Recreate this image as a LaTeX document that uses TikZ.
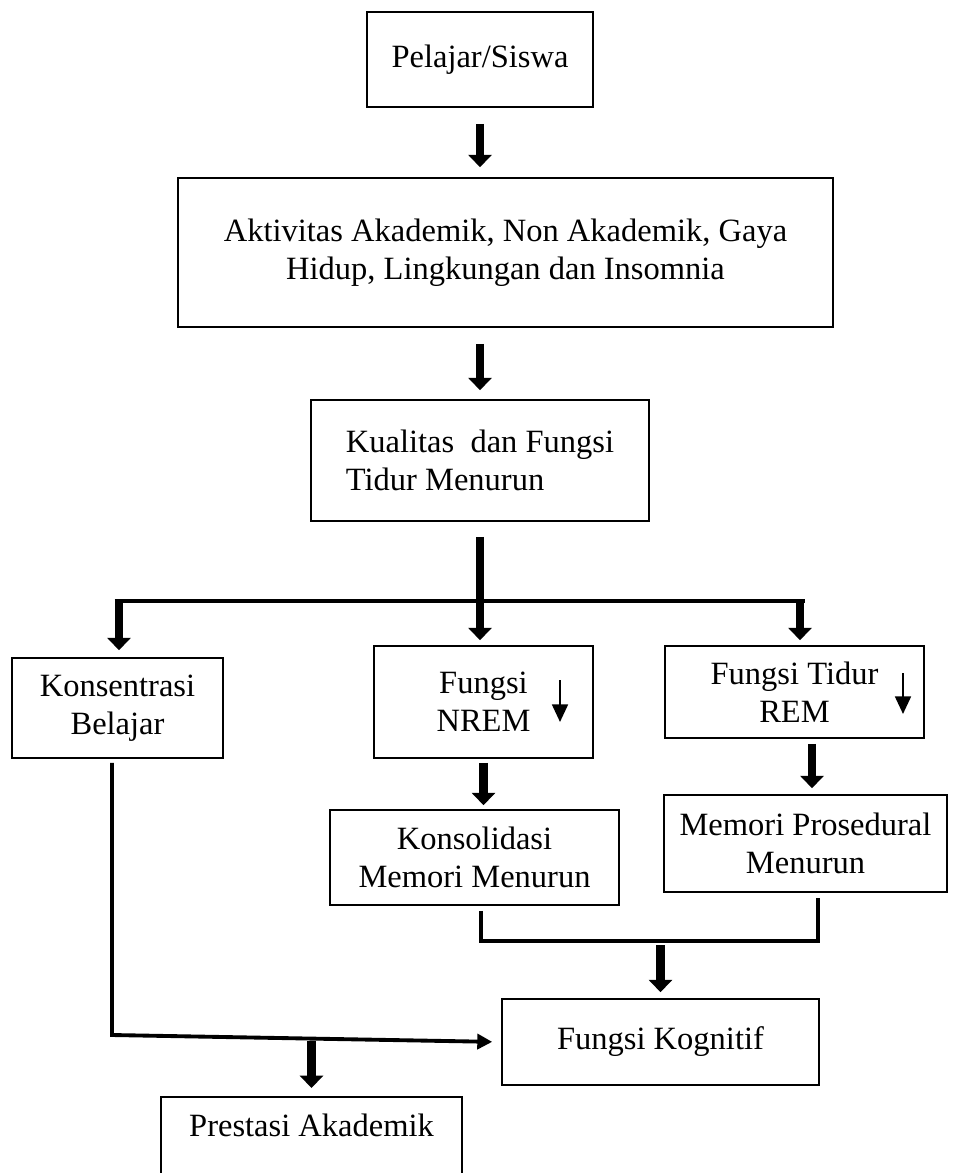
\documentclass[tikz,border=0pt]{standalone}
\usepackage{fontspec}
\setmainfont{Liberation Serif}
\usepackage{tikz}
\usetikzlibrary{arrows.meta}
\tikzset{
    box/.style={draw, line width=0.9pt, align=center, inner sep=2pt},
    bigarrow/.style={line width=5pt, -{Triangle[width=13pt, length=7pt]}},
    linkline/.style={line width=2.2pt},
    linkarrow/.style={line width=2.2pt, -{Triangle[width=8.5pt, length=8.5pt]}},
    downmark/.style={line width=1.3pt, -{Triangle[width=9pt, length=10pt]}}
}

\begin{document}
\begin{tikzpicture}
  [
    x                       = 0.02cm,
    y                       = -0.02cm,
    every node/.style       = {font=\fontsize{18.5}{21.6}\selectfont},
  ]
  \useasboundingbox (0,0) rectangle (953,1173);
  \clip (0,0) rectangle (953,1173);

  \node [box, minimum width=4.52cm, minimum height=1.9cm] (siswa) at (480,59.5) {Pelajar/Siswa};
  \node [box, minimum width=13.1cm, minimum height=2.98cm] (aktivitas) at (505.5,252.5)
    {Aktivitas Akademik, Non Akademik, Gaya\\Hidup, Lingkungan dan Insomnia};
  \node [box, align=left, minimum width=6.76cm, minimum height=2.42cm] (kualitas) at (480,460.5)
    {Kualitas\ \ dan Fungsi\\Tidur Menurun};
  \node [box, minimum width=4.22cm, minimum height=2cm] (konsentrasi) at (117.5,708) {Konsentrasi\\Belajar};
  \node [box, minimum width=4.38cm, minimum height=2.24cm] (nrem) at (483.5,702) {Fungsi\\NREM};
  \node [box, minimum width=5.18cm, minimum height=1.84cm] (rem) at (794.5,692) {Fungsi Tidur\\REM};
  \node [box, minimum width=5.78cm, minimum height=1.9cm] (konsolidasi) at (474.5,857.5) {Konsolidasi\\Memori Menurun};
  \node [box, minimum width=5.66cm, minimum height=1.94cm] (prosedural) at (805.5,843.5) {Memori Prosedural\\Menurun};
  \node [box, minimum width=6.34cm, minimum height=1.72cm] (kognitif) at (660.5,1042) {Fungsi Kognitif};
  \node [box, anchor=north, minimum width=6.02cm, inner ysep=0.34cm, text depth=1.2cm] (prestasi) at (311.5,1096)
    {Prestasi Akademik};

  \coordinate (splitL) at (119,601);
  \coordinate (splitR) at (800,601);
  \coordinate (bend) at (112,1035);
  \coordinate (merge) at (659,941);

  \draw [bigarrow, shorten <=0.32cm, shorten >=0.2cm] (siswa.south) -- (siswa.south |- aktivitas.north);
  \draw [bigarrow, shorten <=0.32cm, shorten >=0.18cm] (kualitas.north |- aktivitas.south) -- (kualitas.north);
  \draw [bigarrow, shorten <=0.3cm, shorten >=0.1cm] (kualitas.south) -- (kualitas.south |- nrem.north);
  \draw [linkline] ([xshift=-0.09cm]splitL) -- ([xshift=0.09cm]splitR);
  \draw [bigarrow, shorten >=0.14cm] ([yshift=0.04cm]splitL) -- (splitL |- konsentrasi.north);
  \draw [bigarrow, shorten >=0.1cm] ([yshift=0.04cm]splitR) -- (splitR |- rem.north);
  \draw [downmark] ([shift={(76.5,-22)}]nrem.center) -- ++(0,42);
  \draw [downmark] ([shift={(108.5,-19)}]rem.center) -- ++(0,41);
  \draw [bigarrow, shorten <=0.08cm, shorten >=0.08cm] (nrem.south) -- (nrem.south |- konsolidasi.north);
  \draw [bigarrow, shorten <=0.1cm, shorten >=0.12cm] ([xshift=0.13cm]prosedural.north |- rem.south)
    -- ([xshift=0.13cm]prosedural.north);
  \draw [linkline, shorten <=0.1cm, shorten >=0.1cm] ([xshift=0.13cm]konsolidasi.south) |- (merge)
    -| ([xshift=0.25cm]prosedural.south);
  \draw [bigarrow, shorten <=0.08cm, shorten >=0.12cm] (kognitif.north |- merge) -- (kognitif.north);
  \draw [linkarrow, shorten <=0.08cm, shorten >=0.18cm] (konsentrasi.south -| bend) -- (bend) -- (kognitif.west);
  \draw [bigarrow, shorten <=0.12cm, shorten >=0.16cm] (prestasi.north |- bend) -- (prestasi.north);
\end{tikzpicture}
\end{document}
